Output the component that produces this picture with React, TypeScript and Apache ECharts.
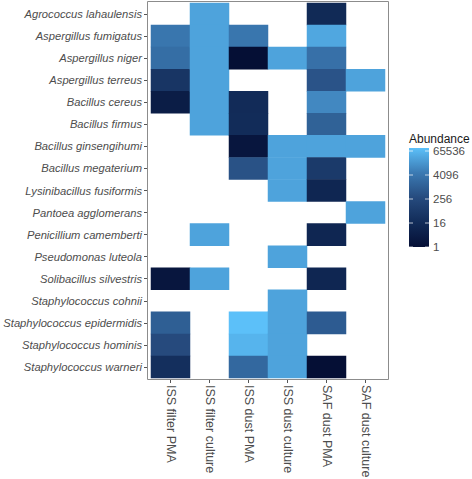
import React, { useEffect, useRef } from "react";
import * as echarts from "echarts";

const SPECIES = [
  "Agrococcus lahaulensis",
  "Aspergillus fumigatus",
  "Aspergillus niger",
  "Aspergillus terreus",
  "Bacillus cereus",
  "Bacillus firmus",
  "Bacillus ginsengihumi",
  "Bacillus megaterium",
  "Lysinibacillus fusiformis",
  "Pantoea agglomerans",
  "Penicillium camemberti",
  "Pseudomonas luteola",
  "Solibacillus silvestris",
  "Staphylococcus cohnii",
  "Staphylococcus epidermidis",
  "Staphylococcus hominis",
  "Staphylococcus warneri",
];

const SAMPLES = [
  "ISS filter PMA",
  "ISS filter culture",
  "ISS dust PMA",
  "ISS dust culture",
  "SAF dust PMA",
  "SAF dust culture",
];

const C = 28000; // culture abundance (uniform colour)
const N = null;

// values per sample, one per species (top to bottom)
const ISS_FILTER_PMA = [N, 4100, 2500, 40, 4, N, N, N, N, N, N, N, 2, N, 1000, 290, 24];
const ISS_FILTER_CULTURE = [C, C, C, C, C, C, N, N, N, N, C, N, C, N, N, N, N];
const ISS_DUST_PMA = [N, 4100, 1, N, 16, 18, 2, 480, N, N, N, N, N, N, 92000, 57000, 1800];
const ISS_DUST_CULTURE = [N, N, C, N, N, N, C, C, C, N, N, C, N, C, C, C, C];
const SAF_DUST_PMA = [14, 33000, 2900, 510, 9400, 1200, C, 64, 10, N, 10, N, 10, N, 830, N, 1];
const SAF_DUST_CULTURE = [N, N, N, C, N, N, C, N, N, C, N, N, N, N, N, N, N];

const COLUMNS = [
  ISS_FILTER_PMA,
  ISS_FILTER_CULTURE,
  ISS_DUST_PMA,
  ISS_DUST_CULTURE,
  SAF_DUST_PMA,
  SAF_DUST_CULTURE,
];

const LEGEND_TICKS = [1, 16, 256, 4096, 65536];
const LOG_MAX = 16.5;
const COLOR_STOPS = ["#050F35", "#122C59", "#264B7E", "#3B7AB3", "#5CC0F9"];

export default function App() {
  const ref = useRef<HTMLDivElement>(null);

  useEffect(() => {
    document.body.style.margin = "0";
    if (!ref.current) return;
    const chart = echarts.init(ref.current, null, { renderer: "svg" });

    const data: any[] = [];
    COLUMNS.forEach((col, xi) => {
      col.forEach((v, yi) => {
        if (v != null) data.push([xi, yi, Math.log2(v), v]);
      });
    });

    const font = "Liberation Sans, Arial, sans-serif";
    const textGray = "#4D4D4D";

    chart.setOption({
      animation: false,
      backgroundColor: "#ffffff",
      textStyle: { fontFamily: font },
      title: {
        text: "Abundance",
        left: 409,
        top: 133,
        padding: 0,
        textStyle: { fontSize: 12, fontWeight: "normal", color: "#1a1a1a", fontFamily: font },
      },
      grid: [
        { left: 151, top: 3, width: 234, height: 375, outerBoundsMode: "none", containLabel: false },
        { left: 409, top: 148, width: 20, height: 99, outerBoundsMode: "none", containLabel: false },
      ],
      xAxis: [
        {
          type: "category",
          data: SAMPLES,
          gridIndex: 0,
          position: "bottom",
          offset: 2,
          axisLine: { show: false },
          axisTick: { show: true, alignWithLabel: true, length: 3, lineStyle: { color: "#555" } },
          axisLabel: { rotate: -90, margin: 5, fontSize: 12.5, color: textGray, fontFamily: font, interval: 0 },
          splitLine: { show: false },
        },
        {
          type: "value",
          gridIndex: 1,
          min: 0,
          max: 1,
          show: false,
        },
      ],
      yAxis: [
        {
          type: "category",
          data: SPECIES,
          inverse: true,
          gridIndex: 0,
          offset: 4,
          axisLine: { show: false },
          axisTick: { show: true, alignWithLabel: true, length: 3, lineStyle: { color: "#555" } },
          axisLabel: { margin: 5, fontSize: 11.2, fontStyle: "italic", color: textGray, fontFamily: font, interval: 0 },
          splitLine: { show: false },
        },
        {
          type: "value",
          gridIndex: 1,
          position: "right",
          min: 0,
          max: LOG_MAX,
          interval: 4,
          axisLine: { show: false },
          axisTick: { show: false },
          splitLine: { show: false },
          axisLabel: {
            margin: 4,
            fontSize: 11.5,
            color: textGray,
            fontFamily: font,
            showMaxLabel: false,
            formatter: (v: number) => String(Math.round(Math.pow(2, v))),
          },
        },
      ],
      visualMap: {
        type: "continuous",
        show: false,
        min: 0,
        max: LOG_MAX,
        dimension: 2,
        seriesIndex: 0,
        inRange: { color: COLOR_STOPS },
      },
      series: [
        {
          type: "heatmap",
          xAxisIndex: 0,
          yAxisIndex: 0,
          data,
          itemStyle: { borderWidth: 0 },
          emphasis: { disabled: true },
        },
        {
          type: "custom",
          xAxisIndex: 1,
          yAxisIndex: 1,
          data: [[0, 0, 1, LOG_MAX]],
          renderItem: (params: any, api: any) => {
            const p0 = api.coord([0, LOG_MAX]);
            const p1 = api.coord([1, 0]);
            const n = COLOR_STOPS.length - 1;
            const stops = COLOR_STOPS.map((c, i) => ({
              offset: i / n,
              color: COLOR_STOPS[n - i],
            }));
            const children: any[] = [
              {
                type: "rect",
                shape: { x: p0[0], y: p0[1], width: p1[0] - p0[0], height: p1[1] - p0[1] },
                style: {
                  fill: {
                    type: "linear",
                    x: 0,
                    y: 0,
                    x2: 0,
                    y2: 1,
                    colorStops: stops,
                    global: false,
                  },
                },
              },
            ];
            LEGEND_TICKS.forEach((t) => {
              const py = api.coord([0, Math.log2(t)])[1];
              children.push({
                type: "line",
                shape: { x1: p0[0], y1: py, x2: p0[0] + 4, y2: py },
                style: { stroke: "#ffffff", lineWidth: 1, opacity: 0.7 },
              });
              children.push({
                type: "line",
                shape: { x1: p1[0] - 4, y1: py, x2: p1[0], y2: py },
                style: { stroke: "#ffffff", lineWidth: 1, opacity: 0.7 },
              });
            });
            return { type: "group", children };
          },
          silent: true,
        },
      ],
      graphic: [
        {
          type: "rect",
          shape: { x: 147.5, y: 1.5, width: 241, height: 378 },
          style: { fill: "none", stroke: "#8c8c8c", lineWidth: 1 },
          silent: true,
          z: 10,
        },
      ],
    });

    return () => chart.dispose();
  }, []);

  return <div ref={ref} style={{ width: 472, height: 479 }} />;
}
